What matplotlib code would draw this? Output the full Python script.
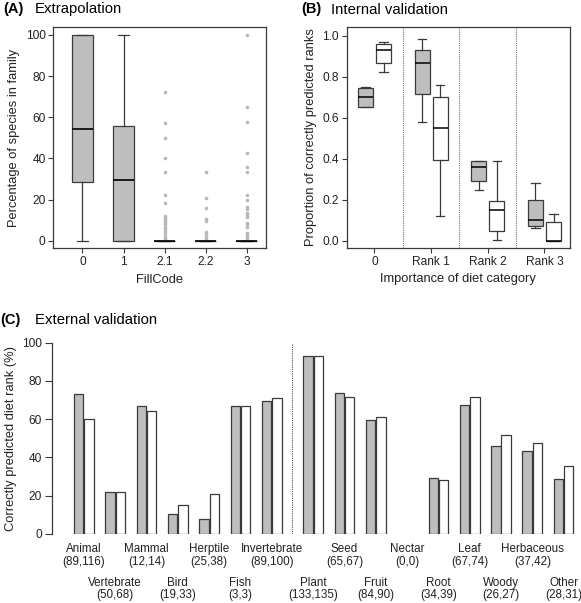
import numpy as np
import matplotlib
matplotlib.use("Agg")
import matplotlib.pyplot as plt

plt.rcParams['font.family'] = ['Liberation Sans', 'DejaVu Sans']

# ---------------- Panel A data ----------------
fill_codes = ['0', '1', '2.1', '2.2', '3']
a_whislo = [0, 0, 0, 0, 0]
a_q1 = [28.5, 0, 0, 0, 0]
a_med = [54.1, 29.4, 0, 0, 0]
a_q3 = [100, 55.6, 0, 0, 0]
a_whishi = [100, 100, 0, 0, 0]
out_0 = []
out_1 = []
out_21 = [72.2, 57.1, 50.1, 40.0, 33.3, 22.4, 18.2, 12.0, 11.4, 10.6, 9.8, 8.9, 8.0,
          6.8, 5.7, 4.7, 3.6, 2.4, 1.5, 0.7]
out_22 = [33.3, 20.8, 15.8, 10.6, 9.8, 4.4, 2.8, 1.6, 0.8]
out_3 = [100, 65.0, 57.9, 42.8, 36.1, 33.3, 22.1, 19.8, 16.6, 15.4, 13.3, 12.5, 11.7,
         8.8, 8.0, 6.8, 3.6, 2.8, 2.0, 1.1]

# ---------------- Panel B data ----------------
rank_labels = ['0', 'Rank 1', 'Rank 2', 'Rank 3']
b_grey_whislo = [0.652, 0.580, 0.249, 0.060]
b_grey_q1 = [0.654, 0.715, 0.291, 0.070]
b_grey_med = [0.701, 0.865, 0.359, 0.099]
b_grey_q3 = [0.746, 0.928, 0.390, 0.198]
b_grey_whishi = [0.750, 0.982, 0.390, 0.280]
b_white_whislo = [0.821, 0.119, 0.002, 0.0]
b_white_q1 = [0.865, 0.393, 0.049, 0.0]
b_white_med = [0.932, 0.550, 0.150, 0.0]
b_white_q3 = [0.958, 0.699, 0.194, 0.089]
b_white_whishi = [0.969, 0.761, 0.390, 0.130]

# ---------------- Panel C data ----------------
diet_cats = ['Animal', 'Vertebrate', 'Mammal', 'Bird', 'Herptile', 'Fish', 'Invertebrate',
             'Plant', 'Seed', 'Fruit', 'Nectar', 'Root', 'Leaf', 'Woody', 'Herbaceous', 'Other']
n_grey = [89, 50, 12, 19, 25, 3, 89, 133, 65, 84, 0, 34, 67, 26, 37, 28]
n_white = [116, 68, 14, 33, 38, 3, 100, 135, 67, 90, 0, 39, 74, 27, 42, 31]
pct_grey = [73.0, 22.0, 66.7, 10.5, 8.0, 66.7, 69.7, 93.2, 73.8, 59.5, 0, 29.4, 67.2, 46.2, 43.2, 28.6]
pct_white = [60.3, 22.1, 64.3, 15.2, 21.1, 66.7, 71.0, 93.3, 71.6, 61.1, 0, 28.2, 71.6, 51.9, 47.6, 35.5]

GREY = '#bebebe'
EDGE = '#3a3a3a'
W, H = 581, 603
fig = plt.figure(figsize=(W / 100, H / 100), dpi=100)


def ax_rect(l, t, r, b):
    return [l / W, 1 - b / H, (r - l) / W, (b - t) / H]


def stats(lo, q1, med, q3, hi, fl=None, label=''):
    return dict(whislo=lo, q1=q1, med=med, q3=q3, whishi=hi, fliers=fl if fl is not None else [], label=label)


def style_axis(ax, tick_len):
    for s in ax.spines.values():
        s.set_color(EDGE)
        s.set_linewidth(0.9)
    ax.tick_params(direction='out', length=tick_len, width=0.8, color=EDGE, labelsize=8.6,
                   labelcolor='#222222', pad=2)


# ---------------- Panel A ----------------
axA = fig.add_axes(ax_rect(53.3, 27.3, 266, 248.3))
outs = [out_0, out_1, out_21, out_22, out_3]
bxA = [stats(a_whislo[i], a_q1[i], a_med[i], a_q3[i], a_whishi[i], outs[i], fill_codes[i])
       for i in range(len(fill_codes))]
axA.bxp(bxA, positions=np.arange(1, 6), widths=0.5, capwidths=0.27, patch_artist=True,
        boxprops=dict(facecolor=GREY, edgecolor=EDGE, linewidth=0.9),
        medianprops=dict(color='black', linewidth=1.2),
        whiskerprops=dict(color=EDGE, linewidth=0.9),
        capprops=dict(color=EDGE, linewidth=0.9),
        flierprops=dict(marker='o', markersize=2.6, markerfacecolor='#b8b8b8',
                        markeredgecolor='none'))
axA.set_xlim(0.29, 5.47)
axA.set_ylim(-3.6, 103.7)
axA.set_yticks([0, 20, 40, 60, 80, 100])
axA.set_xticks(np.arange(1, 6))
axA.set_xticklabels(fill_codes)
style_axis(axA, 3.6)
axA.set_xlabel('FillCode', fontsize=9.3, labelpad=4, color='#222222')
axA.set_ylabel('Percentage of species in family', fontsize=9.3, labelpad=4, color='#222222')
fig.text(3 / W, 1 - 9.5 / H, '(A)', fontsize=10.5, fontweight='bold', va='center', ha='left')
fig.text(35 / W, 1 - 9.5 / H, 'Extrapolation', fontsize=10.7, va='center', ha='left')

# ---------------- Panel B ----------------
axB = fig.add_axes(ax_rect(346.7, 26.7, 570, 248))
pos = np.arange(len(rank_labels))
bx_grey = [stats(b_grey_whislo[i], b_grey_q1[i], b_grey_med[i], b_grey_q3[i], b_grey_whishi[i])
           for i in pos]
bx_white = [stats(b_white_whislo[i], b_white_q1[i], b_white_med[i], b_white_q3[i], b_white_whishi[i])
            for i in pos]
common = dict(widths=0.265, capwidths=0.15, patch_artist=True, showfliers=False,
              medianprops=dict(color='black', linewidth=1.1),
              whiskerprops=dict(color=EDGE, linewidth=0.9),
              capprops=dict(color=EDGE, linewidth=0.9), manage_ticks=False)
axB.bxp(bx_grey, positions=pos - 0.16, boxprops=dict(facecolor=GREY, edgecolor=EDGE, linewidth=0.9), **common)
axB.bxp(bx_white, positions=pos + 0.16, boxprops=dict(facecolor='white', edgecolor=EDGE, linewidth=0.9), **common)
for xv in pos[:-1] + 0.5:
    axB.axvline(xv, color='#777777', linestyle=(0, (1, 1)), linewidth=0.8)
axB.set_xlim(-0.49, 3.45)
axB.set_ylim(-0.036, 1.044)
axB.set_yticks(np.arange(0, 1.01, 0.2))
axB.set_yticklabels([f'{v:.1f}' for v in np.arange(0, 1.01, 0.2)])
axB.set_xticks(pos)
axB.set_xticklabels(rank_labels)
style_axis(axB, 3.6)
axB.set_xlabel('Importance of diet category', fontsize=9.3, labelpad=4, color='#222222')
axB.set_ylabel('Proportion of correctly predicted ranks', fontsize=9.3, labelpad=4, color='#222222')
fig.text(301 / W, 1 - 9.5 / H, '(B)', fontsize=10.5, fontweight='bold', va='center', ha='left')
fig.text(331 / W, 1 - 9.5 / H, 'Internal validation', fontsize=10.7, va='center', ha='left')

# ---------------- Panel C ----------------
axC = fig.add_axes(ax_rect(51.7, 342.7, 578, 534))
idx = np.arange(len(diet_cats))
xc = idx + np.where(idx >= 7, 0.33, 0.0)
lw_g = [0.9 if v > 0 else 0 for v in pct_grey]
lw_w = [0.9 if v > 0 else 0 for v in pct_white]
axC.bar(xc - 0.165, pct_grey, width=0.3, color=GREY, edgecolor=EDGE, linewidth=lw_g)
axC.bar(xc + 0.165, pct_white, width=0.3, color='white', edgecolor=EDGE, linewidth=lw_w)
axC.plot([6.64, 6.64], [0, 100], color='#555555', linestyle=(0, (1, 1)), linewidth=0.8)
axC.set_xlim(-1.03, 15.79)
axC.set_ylim(0, 100)
axC.set_yticks([0, 20, 40, 60, 80, 100])
axC.set_xticks([])
for s in ['top', 'right', 'bottom']:
    axC.spines[s].set_visible(False)
style_axis(axC, 5)
axC.set_ylabel('Correctly predicted diet rank (%)', fontsize=9.3, labelpad=4, color='#222222')
for i, (name, ng, nw) in enumerate(zip(diet_cats, n_grey, n_white)):
    off = 0 if i % 2 == 0 else 24.3
    axC.annotate(name, xy=(xc[i], 0), xycoords=('data', 'axes fraction'),
                 xytext=(0, -11.0 - off), textcoords='offset points',
                 ha='center', va='center', fontsize=8.4, color='#222222')
    axC.annotate(f'({ng},{nw})', xy=(xc[i], 0), xycoords=('data', 'axes fraction'),
                 xytext=(0, -19.9 - off), textcoords='offset points',
                 ha='center', va='center', fontsize=8.4, color='#222222')
fig.text(0 / W, 1 - 320 / H, '(C)', fontsize=10.5, fontweight='bold', va='center', ha='left')
fig.text(35 / W, 1 - 320 / H, 'External validation', fontsize=10.7, va='center', ha='left')

fig.savefig('out.png', dpi=100)
